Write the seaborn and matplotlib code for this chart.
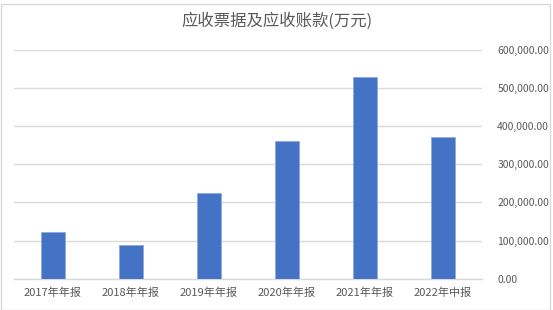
import matplotlib
matplotlib.use("Agg")
import matplotlib.pyplot as plt
import seaborn as sns
import pandas as pd
from matplotlib.ticker import FuncFormatter, MultipleLocator
from matplotlib.patches import Rectangle

categories = ["2017年年报", "2018年年报", "2019年年报", "2020年年报", "2021年年报", "2022年中报"]
values = [123000, 88000, 224000, 360000, 527000, 370000]
title = "应收票据及应收账款(万元)"

sns.set_theme(style="white")
plt.rcParams['font.family'] = ['Noto Sans CJK SC', 'DejaVu Sans']

df = pd.DataFrame({"cat": categories, "val": values})

fig = plt.figure(figsize=(5.53, 3.10), dpi=100)
ax = fig.add_axes([14/553, 31.3/310, 468/553, (278.7-49.5)/310])

sns.barplot(data=df, x="cat", y="val", ax=ax, color="#4472C4", width=0.31,
            saturation=1, edgecolor="#8FAADC", linewidth=0.6, zorder=3)

ax.set_ylim(0, 600000)
ax.yaxis.set_major_locator(MultipleLocator(100000))
ax.yaxis.set_major_formatter(FuncFormatter(lambda v, p: f"{v:,.2f}"))
ax.yaxis.tick_right()
ax.grid(axis="y", color="#D9D9D9", linewidth=1.0, zorder=0)
ax.set_axisbelow(True)
for s in ["top", "left", "right"]:
    ax.spines[s].set_visible(False)
ax.spines["bottom"].set_color("#D9D9D9")
ax.spines["bottom"].set_linewidth(1.0)
ax.tick_params(axis="y", length=0, pad=11, labelsize=7.5, labelcolor="#595959")
ax.tick_params(axis="x", length=0, pad=6, labelsize=8, labelcolor="#595959")
ax.set_xlabel("")
ax.set_ylabel("")

fig.text(277/553, 1 - 21/310, title, ha="center", va="center", fontsize=11.8, color="#595959")

fig.patches.append(Rectangle((0.5/553, 0.5/310), 549/553, 306/310, transform=fig.transFigure,
                             fill=False, edgecolor="#D9D9D9", linewidth=1.0))

fig.savefig("out.png", dpi=100)
